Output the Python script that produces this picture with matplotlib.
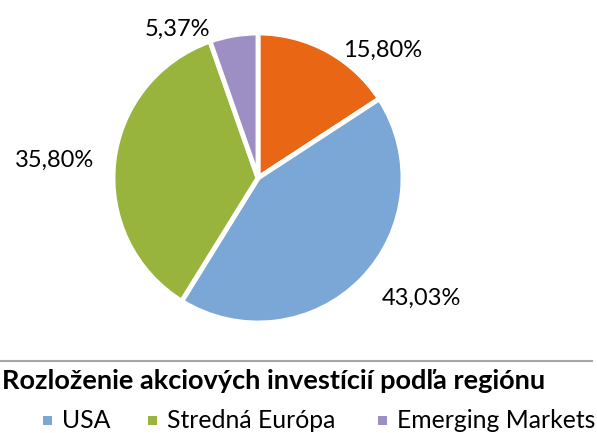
import matplotlib
matplotlib.use("Agg")
import matplotlib.pyplot as plt
from matplotlib.patches import Rectangle

plt.rcParams['font.family'] = ['Lato', 'DejaVu Sans']

# data
regions = ["Slovensko", "USA", "Stredná Európa", "Emerging Markets"]
shares = [15.80, 43.03, 35.80, 5.37]
labels = ["15,80%", "43,03%", "35,80%", "5,37%"]
colors = ["#E96614", "#7BA7D6", "#98B43C", "#9D8FC4"]
title = "Rozloženie akciových investícií podľa regiónu"

W, H = 597, 433
fig = plt.figure(figsize=(W / 100, H / 100), dpi=100)

# pie centred at (258,178) px, radius 145 px
cx, cy, r = 258, 178, 145
ax = fig.add_axes([(cx - r) / W, (H - cy - r) / H, 2 * r / W, 2 * r / H])
ax.pie(shares, colors=colors, startangle=90, counterclock=False,
       wedgeprops=dict(edgecolor="white", linewidth=3.5))
ax.set_xlim(-1, 1)
ax.set_ylim(-1, 1)
ax.set_aspect("equal")
ax.axis("off")

# data labels (pixel positions as in the reference)
label_pos = [(383, 50), (421, 298), (55, 160), (177, 29)]
for txt, (px, py) in zip(labels, label_pos):
    fig.text(px / W, 1 - py / H, txt, ha="center", va="center", fontsize=17)

# separator line
fig.add_artist(plt.Line2D([0, 592 / W], [1 - 361 / H, 1 - 361 / H],
                          color="#A6A6A6", linewidth=1.5))

# title (kept fully inside the figure)
fig.text(2 / W, 1 - 381 / H, title, ha="left", va="center",
         fontsize=19.5, fontweight="bold")

# legend (visible entries), manual layout
leg_x = [43, 148, 378]
for name, c, lx in zip(regions[1:], colors[1:], leg_x):
    fig.add_artist(Rectangle((lx / W, 1 - 425 / H), 9 / W, 9 / H,
                             transform=fig.transFigure, facecolor=c,
                             edgecolor="none"))
    fig.text((lx + 19) / W, 1 - 421 / H, name, ha="left", va="center",
             fontsize=17.8)

fig.savefig("out.png", dpi=100)
